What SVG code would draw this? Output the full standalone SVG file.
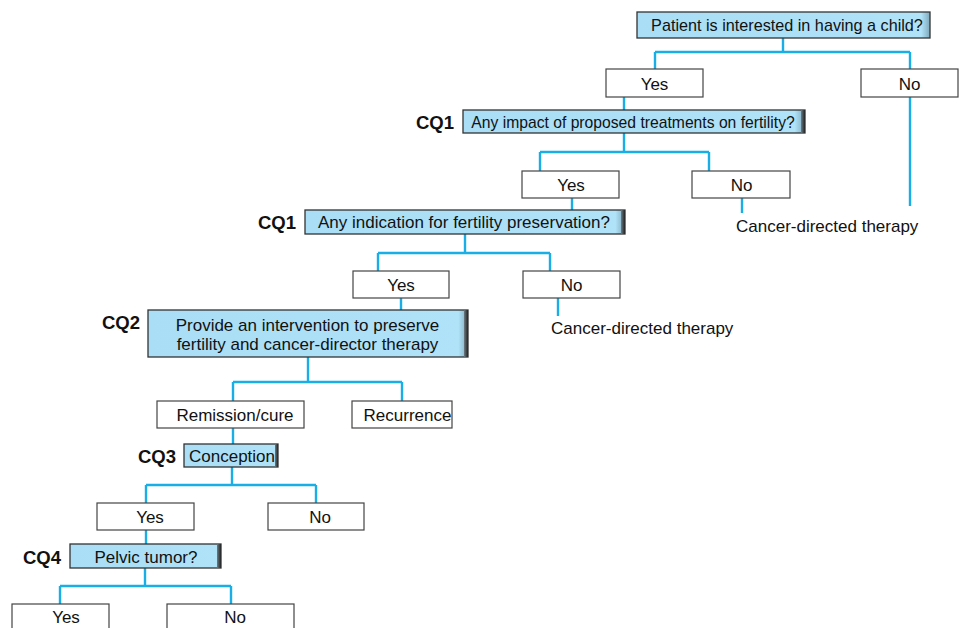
<svg xmlns="http://www.w3.org/2000/svg" width="960" height="628" viewBox="0 0 960 628">
  <defs>
    <linearGradient id="qfill" x1="0" y1="0" x2="1" y2="0">
      <stop offset="0" stop-color="#a9def6"/>
      <stop offset="0.97" stop-color="#b0e2f8"/>
      <stop offset="1" stop-color="#7fa8bb"/>
    </linearGradient>
    <linearGradient id="edge" x1="0" y1="0" x2="1" y2="0">
      <stop offset="0" stop-color="#6d7c84"/>
      <stop offset="1" stop-color="#222"/>
    </linearGradient>
  </defs>
  <style>
    .q { fill: url(#qfill); stroke: #333; stroke-width: 1.3; }
    .qe { fill: url(#edge); }
    .a { fill: #fff; stroke: #444; stroke-width: 1.2; }
    .t { font-family: "Liberation Sans", Arial, sans-serif; font-size: 17px; fill: #111; text-anchor: middle; }
    .tl { font-family: "Liberation Sans", Arial, sans-serif; font-size: 17px; fill: #111; }
    .cq { font-family: "Liberation Sans", Arial, sans-serif; font-size: 18.5px; font-weight: bold; fill: #111; }
    .c { fill: none; stroke: #1aaee6; stroke-width: 2.4; }
  </style>
  <rect width="960" height="628" fill="#fff"/>

  <g id="connectors">
    <path class="c" d="M783 38 V52 M655 52 H910 M655 52 V69 M910 52 V69"/>
    <path class="c" d="M910 97 V206"/>
    <path class="c" d="M624 97 V110"/>
    <path class="c" d="M624 133 V152 M540 152 H709 M540 152 V171 M709 152 V171"/>
    <path class="c" d="M742 198 V213"/>
    <path class="c" d="M572 198 V210"/>
    <path class="c" d="M465 234 V253 M378 253 H550 M378 253 V271 M550 253 V271"/>
    <path class="c" d="M558 298 V316"/>
    <path class="c" d="M401 298 V310"/>
    <path class="c" d="M308 357 V382 M233 382 H402 M233 382 V401 M402 382 V401"/>
    <path class="c" d="M233 428 V444"/>
    <path class="c" d="M232 467 V485 M146 485 H316 M146 485 V503 M316 485 V503"/>
    <path class="c" d="M146 530 V544"/>
    <path class="c" d="M145 568 V586 M60 586 H231 M60 586 V604 M231 586 V604"/>
  </g>

  <g id="q-child">
    <rect class="q" x="637" y="12" width="293" height="26"/>
    <text class="t" x="787" y="31" style="font-size:16.2px">Patient is interested in having a child?</text>
  </g>
  <g id="a-child-yes">
    <rect class="a" x="606" y="69" width="97" height="28"/>
    <text class="t" x="654.5" y="90">Yes</text>
  </g>
  <g id="a-child-no">
    <rect class="a" x="861" y="69" width="97" height="28"/>
    <text class="t" x="909.5" y="90">No</text>
  </g>

  <g id="q-impact">
    <text class="cq" x="416" y="129">CQ1</text>
    <rect class="q" x="463" y="110" width="342" height="23"/>
    <rect class="qe" x="801" y="110" width="4" height="23"/>
    <text class="t" x="633" y="127.5" style="font-size:15.7px">Any impact of proposed treatments on fertility?</text>
  </g>
  <g id="a-impact-yes">
    <rect class="a" x="522" y="171" width="97" height="27"/>
    <text class="t" x="571" y="190.5">Yes</text>
  </g>
  <g id="a-impact-no">
    <rect class="a" x="692" y="171" width="98" height="27"/>
    <text class="t" x="741.5" y="190.5">No</text>
  </g>
  <g id="cdt-1">
    <text class="tl" x="736" y="232">Cancer-directed therapy</text>
  </g>

  <g id="q-indication">
    <text class="cq" x="258" y="229">CQ1</text>
    <rect class="q" x="305" y="210" width="320" height="24"/>
    <rect class="qe" x="621" y="210" width="4" height="24"/>
    <text class="t" x="464" y="228">Any indication for fertility preservation?</text>
  </g>
  <g id="a-indication-yes">
    <rect class="a" x="353" y="271" width="96" height="27"/>
    <text class="t" x="401" y="290.5">Yes</text>
  </g>
  <g id="a-indication-no">
    <rect class="a" x="523" y="271" width="97" height="27"/>
    <text class="t" x="571.5" y="290.5">No</text>
  </g>
  <g id="cdt-2">
    <text class="tl" x="551" y="334">Cancer-directed therapy</text>
  </g>

  <g id="q-intervention">
    <text class="cq" x="102" y="329">CQ2</text>
    <rect class="q" x="148" y="310" width="320" height="47"/>
    <rect class="qe" x="464" y="310" width="4" height="47"/>
    <text class="t" x="307.5" y="331">Provide an intervention to preserve</text>
    <text class="t" x="307.5" y="350">fertility and cancer-director therapy</text>
  </g>
  <g id="a-remission">
    <rect class="a" x="157" y="401" width="147" height="27"/>
    <text class="t" x="235" y="420.5">Remission/cure</text>
  </g>
  <g id="a-recurrence">
    <rect class="a" x="352" y="401" width="100" height="27"/>
    <text class="t" x="407.5" y="420.5">Recurrence</text>
  </g>

  <g id="q-conception">
    <text class="cq" x="138" y="463">CQ3</text>
    <rect class="q" x="184" y="444" width="94" height="23"/>
    <rect class="qe" x="275" y="444" width="3" height="23"/>
    <text class="t" x="232" y="461.5">Conception</text>
  </g>
  <g id="a-conception-yes">
    <rect class="a" x="97" y="503" width="97" height="27"/>
    <text class="t" x="150" y="522.5">Yes</text>
  </g>
  <g id="a-conception-no">
    <rect class="a" x="268" y="503" width="96" height="27"/>
    <text class="t" x="320" y="522.5">No</text>
  </g>

  <g id="q-pelvic">
    <text class="cq" x="23" y="564">CQ4</text>
    <rect class="q" x="70" y="544" width="151" height="24"/>
    <rect class="qe" x="217" y="544" width="4" height="24"/>
    <text class="t" x="146" y="562.5">Pelvic tumor?</text>
  </g>
  <g id="a-pelvic-yes">
    <rect class="a" x="12" y="604" width="97" height="30"/>
    <text class="t" x="66" y="623">Yes</text>
  </g>
  <g id="a-pelvic-no">
    <rect class="a" x="167" y="604" width="127" height="30"/>
    <text class="t" x="235" y="623">No</text>
  </g>
</svg>
